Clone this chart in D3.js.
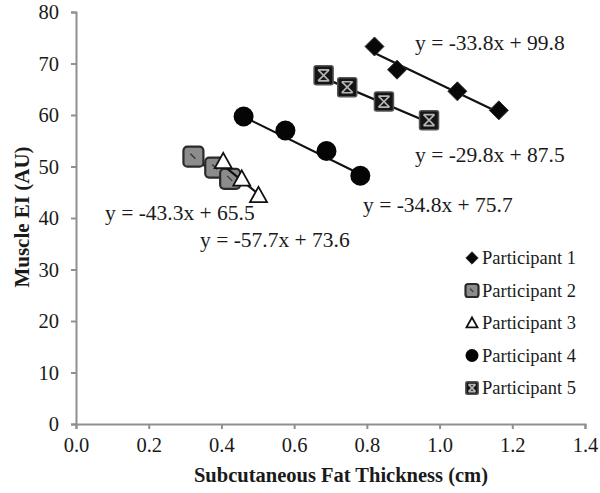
<!DOCTYPE html>
<html><head><meta charset="utf-8">
<script src="https://cdn.jsdelivr.net/npm/d3@7"></script>
<style>body{margin:0;background:#fff}svg text{font-family:"Liberation Serif","Times New Roman",serif;fill:#1a1a1a}</style>
</head><body>
<svg id="c" width="600" height="493"></svg>
<script>
// ---- data ----
const xTickValues = [0, 0.2, 0.4, 0.6, 0.8, 1.0, 1.2, 1.4];
const yTickValues = [0, 10, 20, 30, 40, 50, 60, 70, 80];
const participants = ["Participant 1", "Participant 2", "Participant 3", "Participant 4", "Participant 5"];
const p1X = [0.821, 0.883, 1.049, 1.163];
const p1Y = [73.3, 68.8, 64.6, 60.9];
const p2X = [0.323, 0.383, 0.424];
const p2Y = [51.9, 49.8, 47.6];
const p3X = [0.405, 0.456, 0.502];
const p3Y = [51.0, 47.6, 44.4];
const p4X = [0.461, 0.576, 0.689, 0.782];
const p4Y = [59.7, 57.0, 53.0, 48.2];
const p5X = [0.681, 0.746, 0.847, 0.971];
const p5Y = [67.7, 65.4, 62.6, 59.0];
const slopes = [-33.8, -43.3, -57.7, -34.8, -29.8];
const intercepts = [99.8, 65.5, 73.6, 75.7, 87.5];
const xTitle = "Subcutaneous Fat Thickness (cm)";
const yTitle = "Muscle EI (AU)";

// ---- layout ----
const L = {x0: 76, x1: 585, yTop: 12, yBot: 424};
const eqPos = [[415, 50], [105, 220], [200, 247], [363, 212], [415, 162]];

const svg = d3.select("#c");
const x = d3.scaleLinear().domain([0, 1.4]).range([L.x0, L.x1]);
const y = d3.scaleLinear().domain([0, 80]).range([L.yBot, L.yTop]);

const xAxis = svg.append("g").attr("transform", `translate(0,${L.yBot})`)
  .call(d3.axisBottom(x).tickValues(xTickValues).tickFormat(d3.format(".1f")).tickSize(5).tickPadding(8));
const yAxis = svg.append("g").attr("transform", `translate(${L.x0},0)`)
  .call(d3.axisLeft(y).tickValues(yTickValues).tickFormat(d3.format("d")).tickSize(5).tickPadding(12));
[xAxis, yAxis].forEach(g => {
  g.select(".domain").attr("stroke", "#8f8f8f").attr("stroke-width", 2);
  g.selectAll(".tick line").attr("stroke", "#8f8f8f").attr("stroke-width", 2);
  g.selectAll("text").attr("font-size", 20.5).attr("font-family", "Liberation Serif").attr("fill", "#252525");
});

svg.append("text").attr("x", 341).attr("y", 482).attr("text-anchor", "middle")
  .attr("font-size", 20.5).attr("font-weight", "bold").text(xTitle);
svg.append("text").attr("transform", "translate(29,217) rotate(-90)").attr("text-anchor", "middle")
  .attr("font-size", 21).attr("font-weight", "bold").text(yTitle);

function marker(g, type, cx, cy, s) {
  s = s || 1;
  if (type === 0) {
    const h = 9.5 * s;
    g.append("path").attr("d", `M${cx},${cy - h}L${cx + h},${cy}L${cx},${cy + h}L${cx - h},${cy}Z`)
      .attr("fill", "#080808").attr("stroke", "#333").attr("stroke-width", 1);
  } else if (type === 1) {
    const h = 10 * s;
    g.append("rect").attr("x", cx - h).attr("y", cy - h).attr("width", 2 * h).attr("height", 2 * h).attr("rx", 4 * s)
      .attr("fill", "#8c8c8c").attr("stroke", "#2a2a2a").attr("stroke-width", 2.2);
    g.append("line").attr("x1", cx - 3 * s).attr("y1", cy - 3 * s).attr("x2", cx + 2 * s).attr("y2", cy + 2 * s)
      .attr("stroke", "#333").attr("stroke-width", 1.2);
  } else if (type === 2) {
    const h = 8.5 * s;
    g.append("path").attr("d", `M${cx},${cy - h}L${cx + h},${cy + h * 0.8}L${cx - h},${cy + h * 0.8}Z`)
      .attr("fill", "#fff").attr("stroke", "#111").attr("stroke-width", 1.8);
  } else if (type === 3) {
    g.append("circle").attr("cx", cx).attr("cy", cy).attr("r", 10 * s).attr("fill", "#050505");
  } else {
    const h = 9.5 * s;
    g.append("rect").attr("x", cx - h).attr("y", cy - h).attr("width", 2 * h).attr("height", 2 * h).attr("rx", 2 * s)
      .attr("fill", "#151515").attr("stroke", "#555").attr("stroke-width", 1.5);
    const k = 5.5 * s;
    g.append("path").attr("d", `M${cx - k},${cy - k}L${cx + k},${cy + k}M${cx + k},${cy - k}L${cx - k},${cy + k}M${cx - k},${cy - k}L${cx + k},${cy - k}M${cx - k},${cy + k}L${cx + k},${cy + k}`)
      .attr("stroke", "#b5b5b5").attr("stroke-width", 1.6).attr("fill", "none");
  }
}

const series = [[p1X, p1Y], [p2X, p2Y], [p3X, p3Y], [p4X, p4Y], [p5X, p5Y]];
series.forEach(([xs, ys], i) => {
  const g = svg.append("g");
  const xmin = d3.min(xs), xmax = d3.max(xs);
  g.append("line").attr("x1", x(xmin)).attr("y1", y(slopes[i] * xmin + intercepts[i]))
    .attr("x2", x(xmax)).attr("y2", y(slopes[i] * xmax + intercepts[i]))
    .attr("stroke", "#111").attr("stroke-width", 2.2);
  xs.forEach((xv, j) => marker(g, i, x(xv), y(ys[j])));
});

// equations
series.forEach((s, i) => {
  const sl = slopes[i].toFixed(1), ic = intercepts[i].toFixed(1);
  svg.append("text").attr("x", eqPos[i][0]).attr("y", eqPos[i][1]).attr("font-size", 21.5)
    .text(`y = ${sl}x + ${ic}`);
});

// legend
participants.forEach((p, i) => {
  const ly = 258 + i * 32.5;
  const g = svg.append("g");
  marker(g, i, 472, ly, 0.65);
  g.append("text").attr("x", 482).attr("y", ly + 6).attr("font-size", 18.5).text(p);
});
</script>
</body></html>
